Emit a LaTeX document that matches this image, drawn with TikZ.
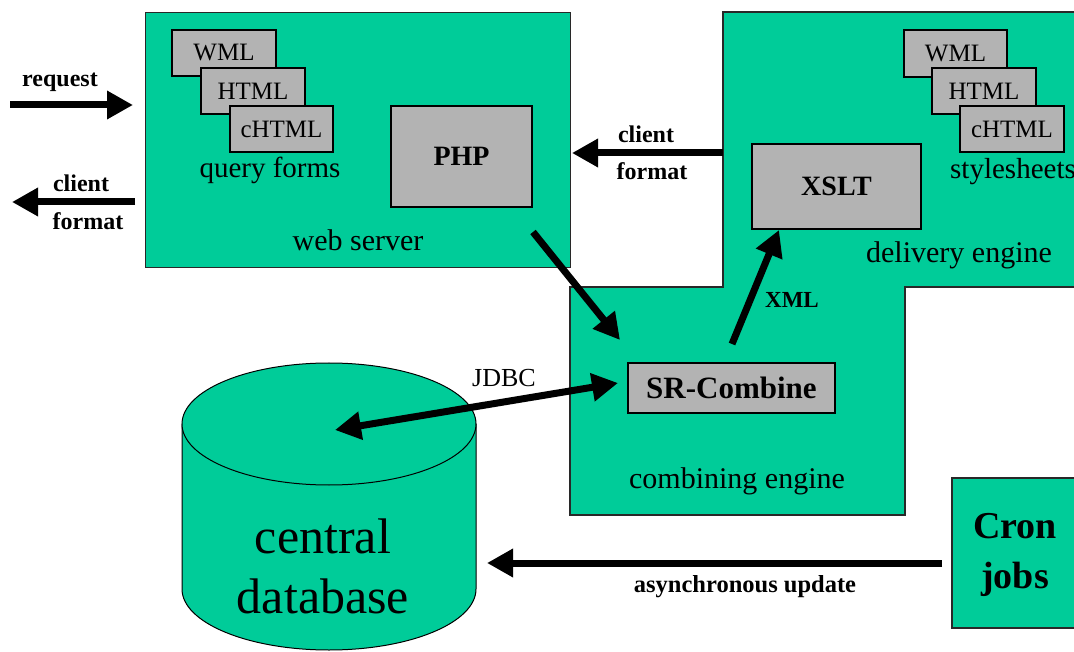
\documentclass[tikz,border=0pt]{standalone}
\usepackage{fontspec}
\setmainfont{Liberation Serif}
\usetikzlibrary{arrows.meta}
\definecolor{eng}{RGB}{0,204,153}
\definecolor{boxgray}{RGB}{179,179,179}
\definecolor{edge}{RGB}{40,40,40}
\newcommand{\fs}[1]{\fontsize{#1}{#1}\selectfont}
\tikzset{
  greenbox/.style={draw=edge, line width=1.3pt, fill=eng, inner sep=0pt},
  graybox/.style={draw=black, line width=1.3pt, fill=boxgray, inner sep=0pt, font=\fs{25}},
  lbl/.style={inner sep=0pt, font=\fs{30}},
  blbl/.style={inner sep=0pt, font=\bfseries\fs{24}},
  bigarrow/.style={line width=7pt, -{Triangle[length=26pt,width=27pt]}},
  dblarrow/.style={line width=7pt, {Triangle[length=26pt,width=27pt]}-{Triangle[length=26pt,width=27pt]}}
}
\begin{document}
\begin{tikzpicture}[x=1pt,y=-1pt]
\useasboundingbox (0,0) rectangle (1074,652);
\clip (0,0) rectangle (1074,652);

% web server
\node[greenbox, anchor=north west, minimum width=425pt, minimum height=255pt] (web) at (145,12) {};
\node[graybox, minimum width=104pt, minimum height=46pt] (wml1) at (224,53) {WML};
\node[graybox, minimum width=104pt, minimum height=46pt] (html1) at (253,91) {HTML};
\node[graybox, minimum width=103pt, minimum height=46pt] (chtml1) at (281.5,129) {cHTML};
\node[lbl, font=\fs{29}] (qf) at (270,170) {query forms};
\node[graybox, font=\bfseries\fs{28}, minimum width=141pt, minimum height=101pt] (php) at (461.5,156.5) {PHP};
\node[lbl] (wslbl) at (358,240) {web server};

% delivery + combining engine
\path[greenbox] (570,287) -- (723,287) -- (723,12) -- (1080,12) -- (1080,287)
  -- (905,287) -- (905,515) -- (570,515) -- cycle;
\node[graybox, minimum width=103pt, minimum height=47pt] (wml2) at (955.5,53.5) {WML};
\node[graybox, minimum width=104pt, minimum height=46pt] (html2) at (984,91) {HTML};
\node[graybox, minimum width=104pt, minimum height=46pt] (chtml2) at (1012,129) {cHTML};
\node[lbl, font=\fs{29}] (ss) at (1013,172) {stylesheets};
\node[graybox, font=\bfseries\fs{28}, minimum width=169pt, minimum height=85pt] (xslt) at (836.5,186.5) {XSLT};
\node[lbl] (delbl) at (959,255) {delivery engine};
\node[graybox, font=\bfseries\fs{31}, minimum width=207pt, minimum height=50pt] (src) at (731.5,388) {SR-Combine};
\node[lbl] (celbl) at (737,481) {combining engine};

% cron jobs
\node[greenbox, minimum width=128pt, minimum height=150pt] (cron) at (1016,553) {};
\node[inner sep=0pt, align=center, font=\bfseries\fs{38}] (cronlbl) at (1015,555) {Cron\\[12pt]jobs};

% database cylinder
\path[draw=black, line width=1pt, fill=eng] (182,424) -- (182,589)
  arc[start angle=180, end angle=360, x radius=147pt, y radius=61pt] -- (476,424) -- cycle;
\draw[black, line width=1pt, fill=eng] (329,424) ellipse [x radius=147pt, y radius=61pt];
\coordinate (dbtop) at (335,430);
\node[inner sep=0pt, font=\fs{50}] (central) at (323,536) {central};
\node[inner sep=0pt, font=\fs{50}] (database) at (323,596) {database};

% connectors
\coordinate (reqA) at (10,105);
\coordinate (reqB) at (133,105);
\draw[bigarrow] (reqA) -- (reqB);
\node[blbl] (req) at (60,82) {request};

\coordinate (cfA) at (135,202);
\coordinate (cfB) at (12,202);
\draw[bigarrow] (cfA) -- (cfB);
\node[blbl] (cf1) at (81,183) {client};
\node[blbl] (cf2) at (88,221) {format};

\coordinate (mcA) at (723,153);
\coordinate (mcB) at (572,153);
\draw[bigarrow] (mcA) -- (mcB);
\node[blbl] (mc1) at (646,134) {client};
\node[blbl] (mc2) at (652,171) {format};

\coordinate (phpA) at (533,232);
\coordinate (srcA) at (620,340);
\draw[bigarrow] (phpA) -- (srcA);

\coordinate (xmlA) at (732,344);
\coordinate (xmlB) at (779,230);
\draw[bigarrow] (xmlA) -- (xmlB);
\node[blbl, font=\bfseries\fs{23}] (xml) at (792,300) {XML};

\coordinate (srcW) at (618,383);
\draw[dblarrow] (dbtop) -- (srcW);
\node[inner sep=0pt, font=\fs{26}] (jdbc) at (504,378) {JDBC};

\coordinate (cronW) at (942,563);
\coordinate (dbE) at (487,563);
\draw[bigarrow] (cronW) -- (dbE);
\node[blbl, font=\bfseries\fs{24.5}] (async) at (745,587) {asynchronous update};
\end{tikzpicture}
\end{document}
